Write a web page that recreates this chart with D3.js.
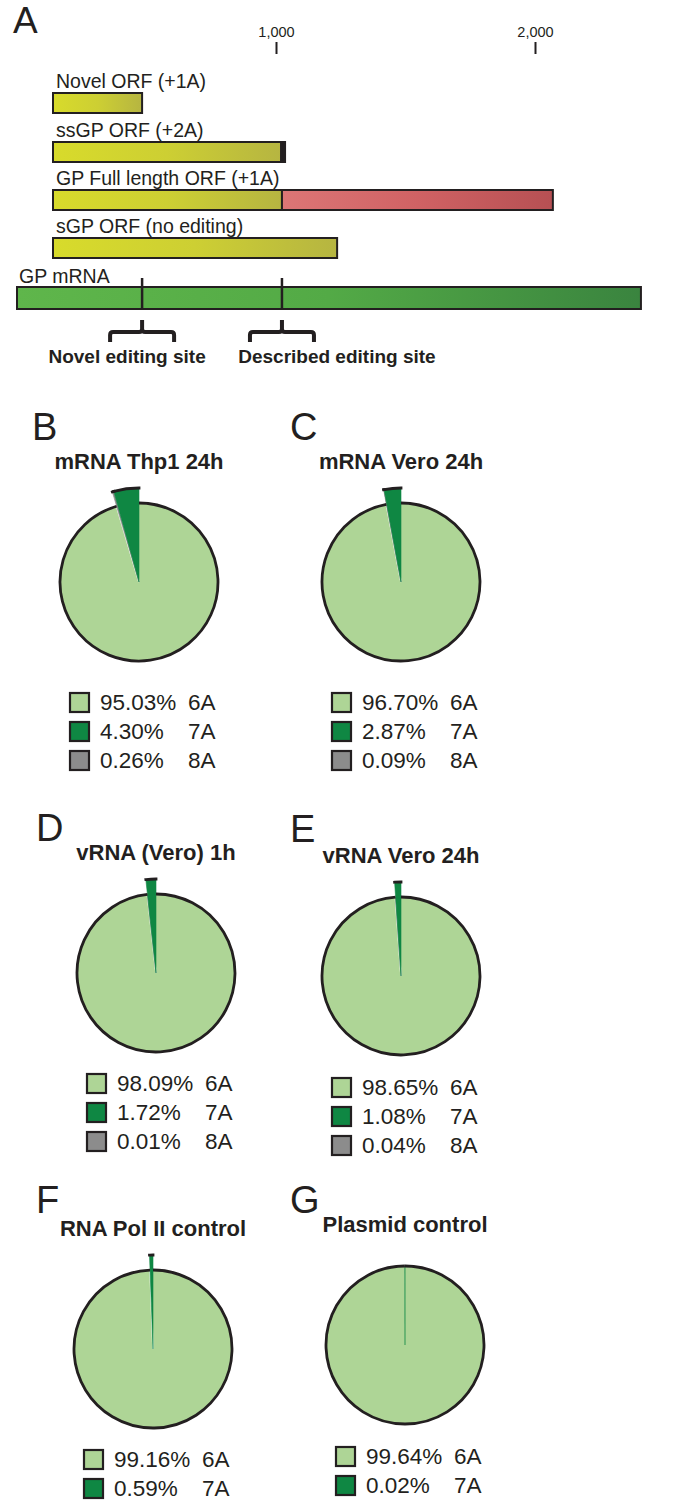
<!DOCTYPE html>
<html>
<head>
<meta charset="utf-8">
<script src="https://cdn.jsdelivr.net/npm/d3@7"></script>
<style>
  body { margin: 0; background: #fff; }
  svg { display: block; }
  text { font-family: "Liberation Sans", Arial, Helvetica, sans-serif; fill: #231f20; }
</style>
</head>
<body>
<svg id="chart" width="677" height="1501"></svg>
<script>
// ---- panel A data (positions in nucleotides) ----
const axisTicks = [1000, 2000];
const orfNames = ["Novel ORF (+1A)", "ssGP ORF (+2A)", "GP Full length ORF (+1A)", "sGP ORF (no editing)"];
const orfSegments = [
  [{ from: 139, to: 483, kind: "orf" }],
  [{ from: 139, to: 1020, kind: "orf" }, { from: 1020, to: 1035, kind: "stop" }],
  [{ from: 139, to: 1023, kind: "orf" }, { from: 1023, to: 2069, kind: "tail" }],
  [{ from: 139, to: 1236, kind: "orf" }]
];
const mrnaName = "GP mRNA";
const mrnaLength = 2409;
const editSites = [483, 1023];
const editSiteNames = ["Novel editing site", "Described editing site"];

// ---- pie panels data ----
const panelLetters = ["B", "C", "D", "E", "F", "G"];
const pieTitles = ["mRNA Thp1 24h", "mRNA Vero 24h", "vRNA (Vero) 1h", "vRNA Vero 24h", "RNA Pol II control", "Plasmid control"];
const alleles = ["6A", "7A", "8A"];
const pct6A = [95.03, 96.70, 98.09, 98.65, 99.16, 99.64];
const pct7A = [4.30, 2.87, 1.72, 1.08, 0.59, 0.02];
const pct8A = [0.26, 0.09, 0.01, 0.04, null, null];

const ink = "#231f20";
const alleleColor = { "6A": "#aed596", "7A": "#0f8743", "8A": "#8c8c8c" };

const svg = d3.select("#chart");
const defs = svg.append("defs");

function gradient(id, stops) {
  const lg = defs.append("linearGradient").attr("id", id);
  stops.forEach((c, i) => lg.append("stop").attr("offset", i / (stops.length - 1)).attr("stop-color", c));
}
gradient("gYellow", ["#d8db2b", "#cdcf33", "#b6b541"]);
gradient("gRed", ["#dc7676", "#d06264", "#b65053"]);
gradient("gGreen", ["#5fb64b", "#53aa46", "#3a843f"]);
const segFill = { orf: "url(#gYellow)", tail: "url(#gRed)", stop: ink };

// ---------- Panel A ----------
svg.append("text").attr("x", 13).attr("y", 33).attr("font-size", 37).text("A");

const x = d3.scaleLinear().domain([0, 2000]).range([17, 535]);

const axis = svg.append("g")
  .attr("transform", "translate(0,54)")
  .call(d3.axisTop(x).tickValues(axisTicks).tickFormat(d3.format(",")).tickSize(12).tickPadding(5));
axis.attr("font-family", null).attr("font-size", 14.5).attr("color", ink);
axis.select(".domain").remove();
axis.selectAll(".tick line").attr("stroke-width", 2);

const rowTop = [93, 142, 190, 238];
const barH = 20;

orfNames.forEach((name, i) => {
  const g = svg.append("g");
  g.append("text")
    .attr("x", x(orfSegments[i][0].from) + 3)
    .attr("y", rowTop[i] - 5)
    .attr("font-size", 19.5)
    .text(name);
  g.selectAll("rect")
    .data(orfSegments[i])
    .join("rect")
    .attr("x", d => x(d.from))
    .attr("y", rowTop[i])
    .attr("width", d => x(d.to) - x(d.from))
    .attr("height", barH)
    .attr("fill", d => segFill[d.kind])
    .attr("stroke", ink)
    .attr("stroke-width", 2);
});

// mRNA bar
const mTop = 287, mH = 22;
svg.append("text").attr("x", x(0) + 2).attr("y", mTop - 4).attr("font-size", 19.5).text(mrnaName);
svg.append("rect")
  .attr("x", x(0)).attr("y", mTop)
  .attr("width", x(mrnaLength) - x(0)).attr("height", mH)
  .attr("fill", "url(#gGreen)").attr("stroke", ink).attr("stroke-width", 2);

svg.selectAll(".site")
  .data(editSites)
  .join("line")
  .attr("class", "site")
  .attr("x1", d => x(d)).attr("x2", d => x(d))
  .attr("y1", mTop - 9).attr("y2", mTop + mH)
  .attr("stroke", ink).attr("stroke-width", 2.5);

// braces under the editing sites
const braceHalf = 32;
function bracePath(cx) {
  const l = cx - braceHalf, r = cx + braceHalf, y = 332;
  return `M${l},342 L${l},${y + 3} Q${l},${y} ${l + 3},${y} L${cx - 3},${y} Q${cx},${y} ${cx},${y - 3} L${cx},320` +
         ` M${cx},${y - 3} Q${cx},${y} ${cx + 3},${y} L${r - 3},${y} Q${r},${y} ${r},${y + 3} L${r},342`;
}
svg.selectAll(".brace")
  .data(editSites)
  .join("path")
  .attr("class", "brace")
  .attr("d", d => bracePath(x(d)))
  .attr("fill", "none").attr("stroke", ink).attr("stroke-width", 4);

const siteLabelDx = [-15, 55];
svg.selectAll(".siteLabel")
  .data(editSites)
  .join("text")
  .attr("class", "siteLabel")
  .attr("x", (d, i) => x(d) + siteLabelDx[i])
  .attr("y", 363)
  .attr("text-anchor", "middle")
  .attr("font-size", 19)
  .attr("font-weight", "bold")
  .text((d, i) => editSiteNames[i]);

// ---------- Pie panels ----------
const letterPos = [[32, 440], [290, 440], [36, 841], [290, 842], [36, 1213], [290, 1213]];
const pieCenter = [[139, 582], [401, 582], [156, 973], [401, 976], [153, 1349], [405, 1345]];
const legendTop = [692, 692, 1073, 1077, 1449, 1446];
const r = 79, R = 94;

const pie = d3.pie().sort(null).value(d => d.value);
const arcMain = d3.arc().innerRadius(0).outerRadius(r);

function rim(radius, a0, a1) {
  const p = d3.path();
  p.moveTo(radius * Math.sin(a0), -radius * Math.cos(a0));
  p.arc(0, 0, radius, a0 - Math.PI / 2, a1 - Math.PI / 2);
  return p.toString();
}

panelLetters.forEach((letter, i) => {
  const [cx, cy] = pieCenter[i];
  svg.append("text")
    .attr("x", letterPos[i][0]).attr("y", letterPos[i][1])
    .attr("font-size", 38).text(letter);

  svg.append("text")
    .attr("x", cx).attr("y", cy - 113)
    .attr("text-anchor", "middle")
    .attr("font-size", 22).attr("font-weight", "bold")
    .text(pieTitles[i]);

  const slices = alleles
    .map((a, k) => ({ allele: a, value: [pct6A, pct7A, pct8A][k][i] }))
    .filter(d => d.value != null);

  // 6A runs clockwise from 12 o'clock, 7A closes the circle just left of it
  const ordered = [slices[0], ...slices.slice(2), slices[1]];
  const arcs = pie(ordered);
  const main = arcs[0];
  // tiny slices (< 0.05%) stay inside the circle as a hairline
  const minor = arcs.slice(1).map(d => Object.assign(d, { tiny: d.value < 0.05 }));

  const g = svg.append("g").attr("transform", `translate(${cx},${cy})`);

  g.append("path").attr("d", arcMain(main)).attr("fill", alleleColor["6A"]);

  const showWhite = minor.some(d => !d.tiny);
  if (showWhite) {
    g.append("line")
      .attr("x1", 0).attr("y1", 0)
      .attr("x2", r * Math.sin(main.endAngle)).attr("y2", -r * Math.cos(main.endAngle))
      .attr("stroke", "#fff").attr("stroke-width", 1.6);
  }

  g.selectAll(".minor")
    .data(minor)
    .join("path")
    .attr("class", "minor")
    .attr("d", d => d3.arc().innerRadius(0).outerRadius(d.tiny ? r : R)(d))
    .attr("fill", d => alleleColor[d.data.allele])
    .attr("stroke", d => alleleColor[d.data.allele])
    .attr("stroke-opacity", d => d.tiny ? 0.6 : 1)
    .attr("stroke-width", d => d.tiny ? 0.8 : 0.6);

  g.append("path")
    .attr("d", rim(r, main.startAngle, main.endAngle))
    .attr("fill", "none").attr("stroke", ink).attr("stroke-width", 2.8);

  g.selectAll(".cap")
    .data(minor.filter(d => !d.tiny))
    .join("path")
    .attr("class", "cap")
    .attr("d", d => rim(R, d.startAngle, d.endAngle))
    .attr("fill", "none").attr("stroke", ink).attr("stroke-width", 2.8)
    .attr("stroke-linecap", "square");

  // legend
  const lg = svg.append("g").attr("transform", `translate(${cx - 70},${legendTop[i]})`);
  const rows = lg.selectAll("g")
    .data(slices)
    .join("g")
    .attr("transform", (d, k) => `translate(0,${k * 29})`);
  rows.append("rect")
    .attr("x", 1).attr("y", 1).attr("width", 19).attr("height", 19)
    .attr("fill", d => alleleColor[d.allele])
    .attr("stroke", ink).attr("stroke-width", 2.2);
  rows.append("text")
    .attr("x", 31).attr("y", 18)
    .attr("font-size", 22.5)
    .text(d => d3.format(".2f")(d.value) + "%");
  rows.append("text")
    .attr("x", 119).attr("y", 18)
    .attr("font-size", 22.5)
    .text(d => d.allele);
});
</script>
</body>
</html>
